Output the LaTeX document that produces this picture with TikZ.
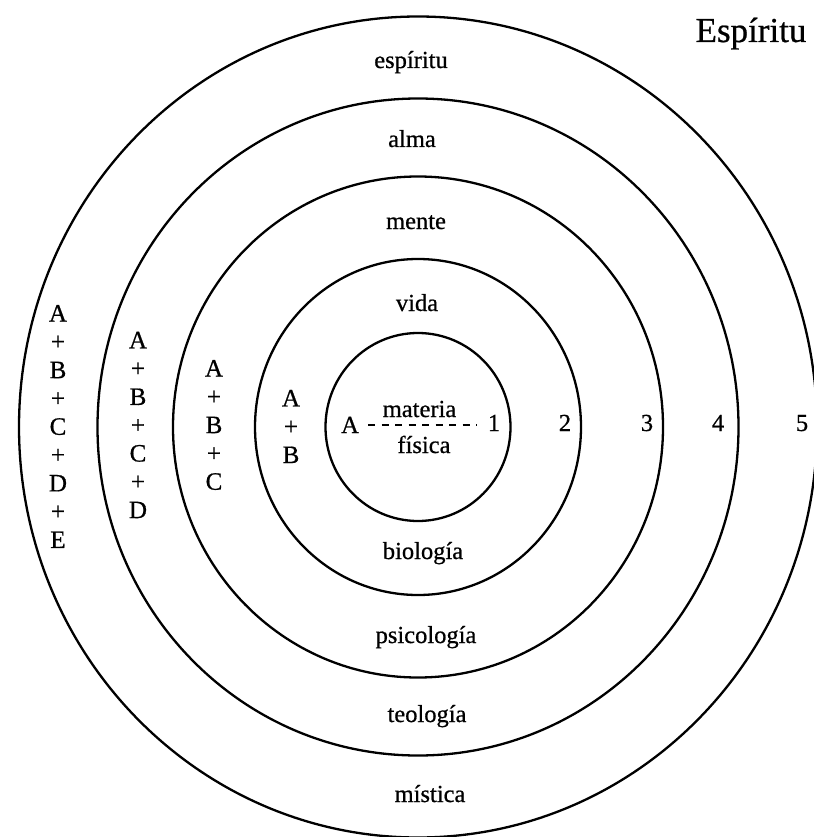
\documentclass[tikz,border=0pt]{standalone}
\usepackage{fontspec}
\setmainfont[FakeBold=0.7]{Liberation Serif}
\begin{document}
\begin{tikzpicture}[x=1pt,y=-1pt,
  ring/.style={line width=2.3pt},
  lbl/.style={anchor=base,inner sep=0pt,font=\fontsize{24.5}{28.3}\selectfont},
  stack/.style={anchor=center,inner sep=0pt,align=center,font=\fontsize{25}{28.3}\selectfont},
  dashline/.style={line width=1.5pt,dash pattern=on 7pt off 6.5pt}]
\useasboundingbox (0,0) rectangle (813,837);
% rings
\coordinate (c) at (418,427);
\draw[ring] (c) ellipse [x radius=92.5, y radius=94];
\draw[ring] (c) ellipse [x radius=163, y radius=168];
\draw[ring] (c) ellipse [x radius=245, y radius=250.5];
\draw[ring] (c) ellipse [x radius=320.5, y radius=328.5];
\draw[ring] (c) ellipse [x radius=399, y radius=410.5];
% title
\node[anchor=base,inner sep=0pt,font=\fontsize{35}{40}\selectfont] (title) at (751,42) {Espíritu};
% upper labels
\node[lbl] (espiritu) at (411,68) {espíritu};
\node[lbl] (alma) at (412,147) {alma};
\node[lbl] (mente) at (416,229) {mente};
\node[lbl] (vida) at (417,311) {vida};
\node[lbl] (materia) at (419.5,417) {materia};
\node[lbl] (fisica) at (424,453) {física};
% lower labels
\node[lbl] (biologia) at (423,559) {biología};
\node[lbl] (psicologia) at (426,643) {psicología};
\node[lbl] (teologia) at (427,722) {teología};
\node[lbl] (mistica) at (430,802) {mística};
% numbers
\node[lbl] (lblA) at (350,433) {A};
\node[lbl] (num1) at (494,431) {1};
\node[lbl] (num2) at (565,431) {2};
\node[lbl] (num3) at (647,431) {3};
\node[lbl] (num4) at (718,431) {4};
\node[lbl] (num5) at (802,431) {5};
\draw[dashline,shorten <=9pt,shorten >=11pt] (lblA.east) -- (lblA.east -| num1.west);
% stacks
\node[stack] (s5) at (58,426.5) {A\\+\\B\\+\\C\\+\\D\\+\\E};
\node[stack] (s4) at (138,425) {A\\+\\B\\+\\C\\+\\D};
\node[stack] (s3) at (214,425) {A\\+\\B\\+\\C};
\node[stack] (s2) at (291,426.5) {A\\+\\B};
\end{tikzpicture}
\end{document}
